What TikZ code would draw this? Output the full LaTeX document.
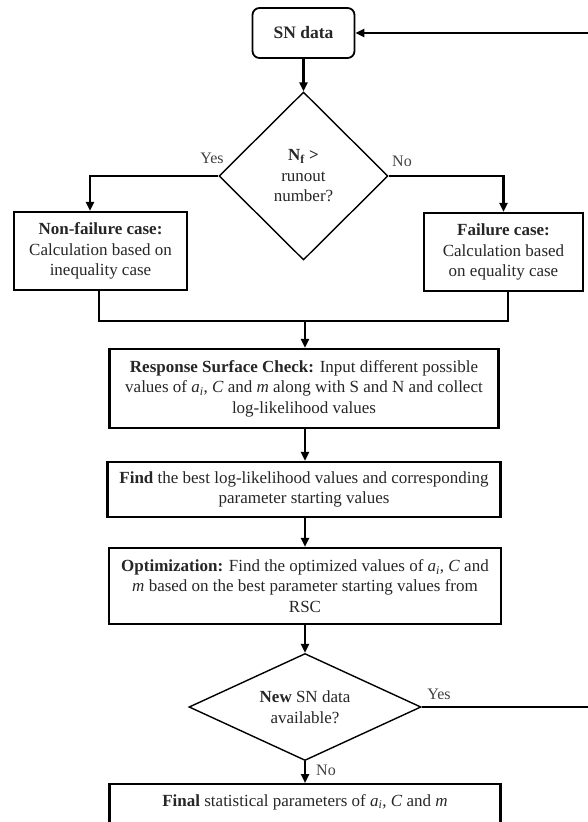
\documentclass[tikz,border=0pt]{standalone}
\usepackage{fontspec}
\setmainfont{Liberation Serif}
\usetikzlibrary{shapes.geometric,arrows.meta}
\begin{document}
\begin{tikzpicture}[x=1pt,y=1pt,
  every node/.style={font=\fontsize{17}{20.5}\selectfont, text=black!85},
  box/.style={draw=black, line width=2.1pt, rectangle, align=center, inner sep=0pt},
  startbox/.style={box, line width=1.8pt, rounded corners=7pt},
  decision/.style={draw=black, line width=1.4pt, diamond, align=center, inner sep=0pt},
  conn/.style={draw=black, line width=2.3pt},
  arr/.style={conn, -{Triangle[length=9pt,width=8pt]}},
  lbl/.style={font=\fontsize{16}{18}\selectfont, text=black!75}
]
\path[use as bounding box, clip] (0,0) rectangle (588,-822);

\node[startbox, minimum width=102pt, minimum height=50pt, font=\fontsize{17.5}{20}\selectfont\bfseries] (sn) at (303.5,-33) {SN data};

\node[decision, minimum width=169pt, minimum height=168pt] (d1) at (303.5,-176)
  {\textbf{N\textsubscript{f} >}\\runout\\number?};

\node[box, minimum width=173pt, minimum height=78pt] (lb) at (100.5,-251)
  {\textbf{Non-failure case:}\\Calculation based on\\inequality case};
\node[box, minimum width=159pt, minimum height=78pt] (rb) at (503.5,-252)
  {\textbf{Failure case:}\\Calculation based\\on equality case};

\coordinate (mid) at (305,-321);

\node[box, minimum width=389pt, minimum height=79pt] (rsc) at (304,-388.5)
  {\textbf{Response Surface Check:} Input different possible\\
   values of \textit{a}\textsubscript{\textit{i}}, \textit{C} and \textit{m} along with S and N and collect\\
   log-likelihood values};

\node[box, minimum width=393pt, minimum height=55pt] (find) at (304,-489.5)
  {\textbf{Find} the best log-likelihood values and corresponding\\
   parameter starting values};

\node[box, minimum width=392pt, minimum height=76pt] (opt) at (305,-586)
  {\textbf{Optimization:} Find the optimized values of \textit{a}\textsubscript{\textit{i}}, \textit{C} and\\
   \textit{m} based on the best parameter starting values from\\
   RSC};

\node[decision, shape aspect=2.17, minimum width=232pt, minimum height=107pt] (d2) at (305,-707)
  {\textbf{New} SN data\\available?};

\node[box, anchor=north, minimum width=391pt, inner ysep=10pt, text height=12pt, text depth=30pt] (final) at (305,-783)
  {\textbf{Final} statistical parameters of \textit{a}\textsubscript{\textit{i}}, \textit{C} and \textit{m}};

\coordinate (loop) at (600,-707);

% connectors
\draw[arr] (sn.south) -- (d1.north);
\draw[arr] (d1.west) -| ([xshift=-10.5pt]lb.north);
\draw[arr] (d1.east) -| (rb.north);
\draw[conn] ([xshift=-1.5pt]lb.south) |- (mid) -| ([xshift=4.5pt]rb.south);
\draw[arr] (mid) -- (mid |- rsc.north);
\draw[arr] (rsc.south -| mid) -- (find.north -| mid);
\draw[arr] (find.south -| mid) -- (opt.north -| mid);
\draw[arr] (opt.south) -- (d2.north);
\draw[arr] (d2.south) -- (final.north);
\draw[arr] (d2.east) -- (loop) |- (sn.east);

% labels
\node[lbl] (yes1) at (212,-158) {Yes};
\node[lbl] (no1) at (402,-161) {No};
\node[lbl] (yes2) at (439,-694) {Yes};
\node[lbl] (no2) at (326,-770) {No};
\end{tikzpicture}
\end{document}
